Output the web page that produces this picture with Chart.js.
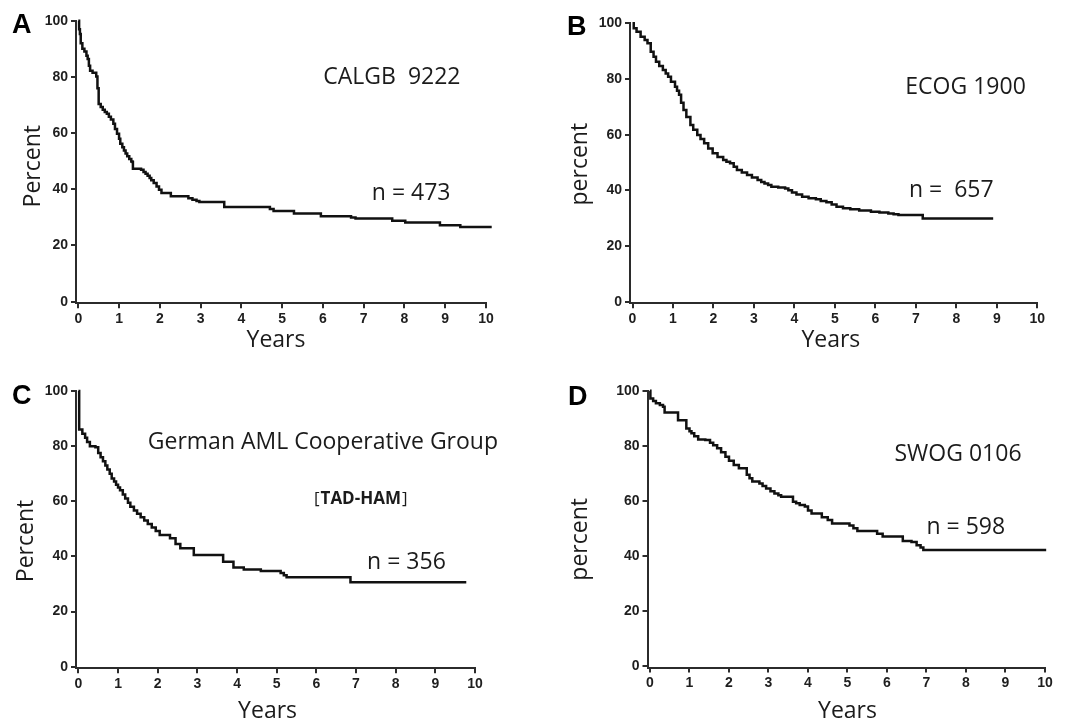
<!DOCTYPE html>
<html>
<head>
<meta charset="utf-8">
<script src="https://cdn.jsdelivr.net/npm/chart.js@4.4.1/dist/chart.umd.min.js"></script>
<style>
  html, body { margin: 0; padding: 0; background: #ffffff; }
  #wrap { position: relative; width: 1066px; height: 722px; overflow: hidden; background: #ffffff; }
  canvas { position: absolute; display: block; }
</style>
</head>
<body>
<div id="wrap">
  <canvas id="cA" width="533" height="361" style="left:0px;top:0px;width:533px;height:361px"></canvas>
  <canvas id="cB" width="533" height="361" style="left:533px;top:0px;width:533px;height:361px"></canvas>
  <canvas id="cC" width="533" height="361" style="left:0px;top:361px;width:533px;height:361px"></canvas>
  <canvas id="cD" width="533" height="361" style="left:533px;top:361px;width:533px;height:361px"></canvas>
</div>
<script>
// ---------------- data ----------------
const xTickValues = [0, 1, 2, 3, 4, 5, 6, 7, 8, 9, 10];
const yTickValues = [0, 20, 40, 60, 80, 100];

// A: CALGB 9222  (years, percent surviving after each step)
const calgbYears   = [0, 0.02, 0.04, 0.06, 0.1, 0.15, 0.2, 0.23, 0.26, 0.29, 0.35, 0.44, 0.47, 0.5, 0.55, 0.6, 0.65, 0.7, 0.75, 0.8, 0.86, 0.9, 0.95, 1.0, 1.03, 1.08, 1.12, 1.16, 1.2, 1.25, 1.3, 1.33, 1.34, 1.54, 1.6, 1.65, 1.7, 1.75, 1.79, 1.85, 1.92, 1.98, 2.04, 2.27, 2.7, 2.8, 2.9, 2.97, 3.58, 4.7, 4.79, 5.29, 5.95, 6.69, 6.8, 7.7, 8.02, 8.87, 9.37, 10.14];
const calgbPercent = [100, 97, 95.3, 92, 90, 89, 87.5, 86.4, 84, 82.2, 81.5, 80.1, 76, 70.4, 69.3, 68.3, 67.5, 66.9, 65.8, 64.8, 63.3, 61.5, 59.8, 58, 56.2, 55, 53.8, 52.7, 51.8, 50.8, 49.9, 49.7, 47.3, 47, 46.2, 45.5, 44.8, 44, 43.2, 42.2, 41, 39.8, 38.7, 37.5, 36.8, 36.3, 35.8, 35.5, 33.7, 33, 32.3, 31.4, 30.4, 30, 29.6, 28.8, 28.2, 27.2, 26.6, 26.6];

// B: ECOG 1900
const ecogYears   = [0, 0.03, 0.1, 0.2, 0.3, 0.37, 0.45, 0.52, 0.58, 0.66, 0.75, 0.82, 0.88, 0.95, 1.05, 1.1, 1.15, 1.2, 1.26, 1.33, 1.43, 1.5, 1.6, 1.68, 1.77, 1.87, 1.98, 2.1, 2.24, 2.32, 2.41, 2.5, 2.58, 2.7, 2.83, 2.95, 3.09, 3.18, 3.26, 3.35, 3.43, 3.6, 3.77, 3.85, 3.94, 4.05, 4.19, 4.35, 4.53, 4.65, 4.79, 4.92, 5.04, 5.2, 5.38, 5.6, 5.89, 6.1, 6.32, 6.45, 6.57, 7.17, 8.91];
const ecogPercent = [100, 98.2, 97, 95.2, 94, 92.8, 89.8, 88, 86.2, 84.7, 83.2, 82, 80.8, 79, 77.2, 75.8, 74.3, 71.5, 68.9, 66.3, 63.5, 61.8, 59.9, 58.4, 56.9, 55, 53.3, 52, 50.9, 50.3, 49.7, 48.5, 47.3, 46.4, 45.5, 44.6, 43.7, 43, 42.5, 41.9, 41.3, 41, 40.7, 40, 39.2, 38.5, 37.7, 37.2, 36.8, 36.2, 35.7, 34.9, 34.1, 33.6, 33.2, 32.8, 32.3, 32, 31.7, 31.4, 31.1, 29.9, 29.9];

// C: German AML Cooperative Group [TAD-HAM]
const germanYears   = [0, 0.02, 0.1, 0.17, 0.22, 0.29, 0.43, 0.5, 0.56, 0.62, 0.68, 0.73, 0.79, 0.84, 0.9, 0.95, 1.0, 1.05, 1.12, 1.18, 1.25, 1.31, 1.4, 1.48, 1.57, 1.66, 1.75, 1.85, 1.95, 2.05, 2.31, 2.45, 2.57, 2.91, 3.65, 3.91, 4.17, 4.6, 5.1, 5.18, 5.25, 6.86, 9.78];
const germanPercent = [100, 86, 84.5, 83, 81.5, 80, 79.6, 77.5, 76, 74.5, 73, 71.5, 70, 68.3, 67.2, 66, 65, 64, 62.5, 61, 59.5, 58, 56.7, 55.5, 54.2, 53, 51.8, 50.5, 49.2, 47.8, 46.6, 44.5, 43, 40.5, 38.1, 36, 35.3, 34.7, 34, 33.2, 32.4, 30.6, 30.6];

// D: SWOG 0106
const swogYears   = [0, 0.01, 0.08, 0.15, 0.25, 0.33, 0.37, 0.71, 0.92, 1.0, 1.05, 1.12, 1.22, 1.4, 1.52, 1.6, 1.7, 1.8, 1.91, 2.0, 2.12, 2.25, 2.45, 2.52, 2.59, 2.77, 2.85, 2.94, 3.05, 3.15, 3.25, 3.32, 3.62, 3.7, 3.79, 3.92, 4.0, 4.09, 4.35, 4.5, 4.61, 5.05, 5.15, 5.25, 5.75, 5.89, 6.4, 6.62, 6.75, 6.85, 6.92, 10.03];
const swogPercent = [100, 97.2, 96.3, 95.4, 94.8, 94.2, 92.1, 89.3, 86.3, 85.3, 84.5, 83.5, 82.3, 82.1, 81.1, 80.2, 79.1, 77.6, 76, 74.6, 73, 71.8, 69.5, 68.2, 67, 66.3, 65.4, 64.5, 63.5, 62.7, 62, 61.5, 59.7, 59.1, 58.5, 57.9, 56.5, 55.4, 54, 53, 51.8, 51, 50, 49, 48, 47, 45.4, 45, 43.9, 43, 42.1, 42.1];

const panelLetters = ['A', 'B', 'C', 'D'];
const studyLabels  = ['CALGB  9222', 'ECOG 1900', 'German AML Cooperative Group', 'SWOG 0106'];
const sampleLabels = ['n = 473', 'n =  657', 'n = 356', 'n = 598'];
const yTitles      = ['Percent', 'percent', 'Percent', 'percent'];
const xTitle       = 'Years';
const subLabel     = 'TAD-HAM';

// ---------------- layout / style (page coordinates) ----------------
const TEXT_FONT = '"Open Sans", "DejaVu Sans", sans-serif';
const TICK_FONT = '"Liberation Sans", Arial, sans-serif';
const INK = '#1b1b1b';
const AXIS = '#2b2b2b';

const panels = [
  { id: 'cA', box: {x: 0,   y: 0,   w: 533, h: 361}, area: {left: 76,    top: 20.7,  right: 486,    bottom: 303.3}, xMin: -0.056, yMin: -0.57,
    years: calgbYears, pct: calgbPercent, letter: {x: 12, y: 33},
    study: {x: 6.01, y: 77.3}, n: {x: 7.2, y: 36.3}, sub: null,
    yTitle: {x: 39.5, y: 48.2}, xTitle: {x: 4.85, y: 346.5} },
  { id: 'cB', box: {x: 533, y: 0,   w: 533, h: 361}, area: {left: 630,   top: 23.3,  right: 1037.3, bottom: 303.3}, xMin: -0.062, yMin: -0.575,
    years: ecogYears, pct: ecogPercent, letter: {x: 567, y: 35},
    study: {x: 6.74, y: 74.5}, n: {x: 6.83, y: 37.5}, sub: null,
    yTitle: {x: 586.5, y: 49.4}, xTitle: {x: 4.9, y: 346.5} },
  { id: 'cC', box: {x: 0,   y: 361, w: 533, h: 361}, area: {left: 76,    top: 391,   right: 475,    bottom: 668.3}, xMin: -0.06, yMin: -0.58,
    years: germanYears, pct: germanPercent, letter: {x: 12, y: 404},
    study: {x: 1.75, y: 79}, n: {x: 7.28, y: 35.3}, sub: {x: 5.94, y: 58.9},
    yTitle: {x: 32.6, y: 45.6}, xTitle: {x: 4.77, y: 717.5} },
  { id: 'cD', box: {x: 533, y: 361, w: 533, h: 361}, area: {left: 647.5, top: 390.7, right: 1045,   bottom: 667.6}, xMin: -0.063, yMin: -0.58,
    years: swogYears, pct: swogPercent, letter: {x: 568, y: 405},
    study: {x: 6.19, y: 74.5}, n: {x: 7.0, y: 47.8}, sub: null,
    yTitle: {x: 586.5, y: 46}, xTitle: {x: 5.0, y: 717.5} }
];

const textPlugin = {
  id: 'panelText',
  afterDraw(chart, args, o) {
    const p = o.panel, i = o.index;
    const ctx = chart.ctx, xs = chart.scales.x, ys = chart.scales.y;
    const ox = p.box.x, oy = p.box.y;
    ctx.save();
    ctx.textBaseline = 'alphabetic';
    ctx.textAlign = 'left';
    // panel letter
    ctx.fillStyle = '#000';
    ctx.font = 'bold 27px ' + TICK_FONT;
    ctx.fillText(panelLetters[i], p.letter.x - ox, p.letter.y - oy);
    ctx.fillStyle = INK;
    // study label and sample size
    ctx.font = '23px ' + TEXT_FONT;
    ctx.fillText(studyLabels[i], xs.getPixelForValue(p.study.x), ys.getPixelForValue(p.study.y));
    ctx.fillText(sampleLabels[i], xs.getPixelForValue(p.n.x), ys.getPixelForValue(p.n.y));
    // sub label [TAD-HAM]
    if (p.sub) {
      let sx = xs.getPixelForValue(p.sub.x);
      const sy = ys.getPixelForValue(p.sub.y);
      ctx.font = '17px ' + TEXT_FONT;
      ctx.fillText('[', sx, sy); sx += ctx.measureText('[').width + 1;
      ctx.font = 'bold 17px ' + TEXT_FONT;
      ctx.fillText(subLabel, sx, sy); sx += ctx.measureText(subLabel).width + 1;
      ctx.font = '17px ' + TEXT_FONT;
      ctx.fillText(']', sx, sy);
    }
    // x title
    ctx.font = '23px ' + TEXT_FONT;
    ctx.textAlign = 'center';
    ctx.fillText(xTitle, xs.getPixelForValue(p.xTitle.x), p.xTitle.y - oy);
    // y title (rotated)
    ctx.translate(p.yTitle.x - ox, ys.getPixelForValue(p.yTitle.y));
    ctx.rotate(-Math.PI / 2);
    ctx.fillText(yTitles[i], 0, 0);
    ctx.restore();
  }
};

function axisCommon(ticksPadding) {
  return {
    ticks: {
      font: { family: TICK_FONT, size: 14, weight: 'bold' },
      color: '#1e1e1e',
      padding: ticksPadding,
      autoSkip: false,
      maxRotation: 0,
      minRotation: 0
    },
    grid: { display: true, drawOnChartArea: false, drawTicks: true, tickLength: 5, color: AXIS, lineWidth: 2 },
    border: { display: true, color: AXIS, width: 2 }
  };
}

panels.forEach((p, i) => {
  const padTop = p.area.top - p.box.y;
  const padRight = p.box.x + p.box.w - p.area.right;
  const yWidth = p.area.left - p.box.x;
  const xHeight = p.box.y + p.box.h - p.area.bottom;
  const xAxis = Object.assign(axisCommon(2), {
    type: 'linear', position: 'bottom', min: p.xMin, max: 10,
    afterBuildTicks: s => { s.ticks = xTickValues.map(v => ({ value: v })); },
    afterFit: s => { s.height = xHeight; }
  });
  const yAxis = Object.assign(axisCommon(3), {
    type: 'linear', position: 'left', min: p.yMin, max: 100,
    afterBuildTicks: s => { s.ticks = yTickValues.map(v => ({ value: v })); },
    afterFit: s => { s.width = yWidth; }
  });
  new Chart(document.getElementById(p.id), {
    type: 'line',
    data: {
      datasets: [{
        data: p.years.map((t, k) => ({ x: t, y: p.pct[k] })),
        stepped: true,
        borderColor: '#111111',
        borderWidth: 2.5,
        pointRadius: 0,
        fill: false,
        clip: false
      }]
    },
    options: {
      responsive: false,
      animation: false,
      events: [],
      devicePixelRatio: 1,
      layout: { padding: { top: padTop, right: padRight, left: 0, bottom: 0 } },
      plugins: {
        legend: { display: false },
        tooltip: { enabled: false },
        panelText: { panel: p, index: i }
      },
      scales: { x: xAxis, y: yAxis }
    },
    plugins: [textPlugin]
  });
});
</script>
</body>
</html>
